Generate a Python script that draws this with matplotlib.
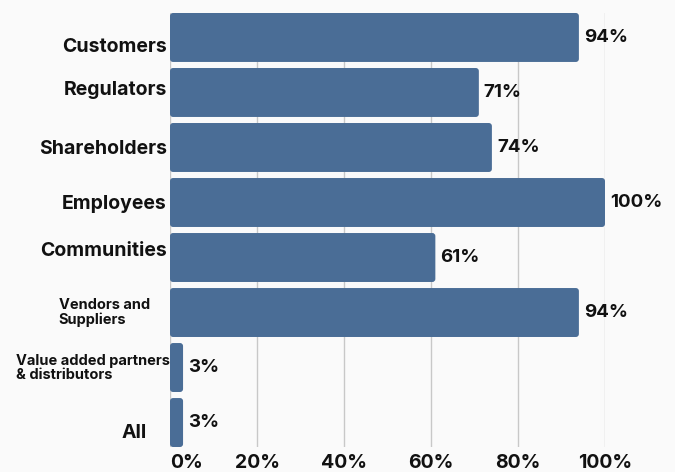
import matplotlib
matplotlib.use("Agg")
import matplotlib.pyplot as plt
from matplotlib.patches import FancyBboxPatch
from matplotlib.transforms import offset_copy

categories = ["Customers", "Regulators", "Shareholders", "Employees",
              "Communities", "Vendors and\nSuppliers",
              "Value added partners\n& distributors", "All"]
values = [94, 71, 74, 100, 61, 94, 3, 3]
ticks = [0, 20, 40, 60, 80, 100]
tick_labels = ["0%", "20%", "40%", "60%", "80%", "100%"]

# label tweaks (font size, dx px, dy px)
label_style = [(14, 0, -10), (14, 0, 2), (14, 0, -2), (14, 0, -2),
               (14, 0, 7), (10.5, -17, 0), (10.5, 3, 0), (14, -20, -10)]

bar_color = "#4a6d96"
bg = "#fafafa"
plt.rcParams["font.family"] = ["Inter", "DejaVu Sans"]
plt.rcParams["font.weight"] = "bold"

fig = plt.figure(figsize=(6.75, 4.72), dpi=100, facecolor=bg)
ax = fig.add_axes([170 / 675, 25 / 472, 435 / 675, 434 / 472], facecolor=bg)

ypos = list(range(len(categories)))
bars = ax.barh(ypos, values, height=0.89, color=bar_color, zorder=3)

# swap plain rectangles for slightly rounded ones
for b in bars:
    x, y = b.get_x(), b.get_y()
    w, h = b.get_width(), b.get_height()
    r = FancyBboxPatch((x, y), w, h, boxstyle="round,pad=0,rounding_size=0.7",
                       mutation_aspect=4.35 / 55, facecolor=bar_color,
                       edgecolor="none", zorder=3)
    ax.add_patch(r)
    b.set_visible(False)

for y, v in zip(ypos, values):
    ax.text(v, y, f"{v}%", transform=offset_copy(ax.transData, fig, x=5, y=0, units="dots"),
            va="center", ha="left", fontsize=13.5, fontweight="bold",
            color="#111111", clip_on=False)

ax.set_xlim(0, 100)
ax.set_ylim(len(categories) - 1 + 0.445, -0.445)
ax.set_xticks(ticks)
ax.set_xticklabels(tick_labels, fontsize=14, fontweight="bold", color="#111111")
ax.get_xticklabels()[0].set_horizontalalignment("left")
ax.get_xticklabels()[0].set_x(1.2)
ax.tick_params(axis="x", length=0, pad=5)
ax.set_yticks([])
ax.grid(axis="x", color="#c8c8c8", linewidth=1, zorder=0)
for s in ax.spines.values():
    s.set_visible(False)

for y, name, (fs, dx, dy) in zip(ypos, categories, label_style):
    ax.text(0, y, name, transform=offset_copy(ax.transData, fig, x=-3 + dx, y=dy, units="dots"),
            ha="right", va="center", multialignment="left",
            fontsize=fs, fontweight="bold", color="#111111", linespacing=1.0)

fig.savefig("out.png", dpi=100, facecolor=bg)
